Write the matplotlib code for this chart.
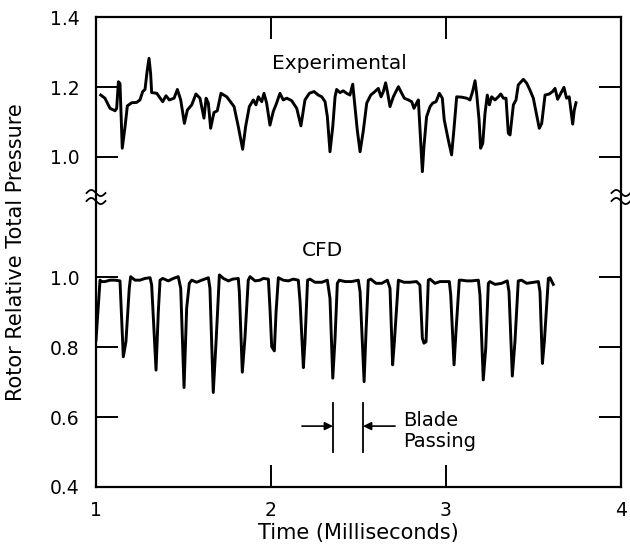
import numpy as np
import matplotlib.pyplot as plt

# Experimental trace (time in ms, relative total pressure)
exp_t = [1.027, 1.051, 1.08, 1.109, 1.118, 1.128, 1.137, 1.15, 1.166, 1.179,
         1.204, 1.232, 1.251, 1.267, 1.28, 1.293, 1.303, 1.312, 1.318, 1.347,
         1.381, 1.4, 1.419, 1.446, 1.465, 1.484, 1.505, 1.522, 1.547, 1.571,
         1.594, 1.617, 1.629, 1.642, 1.655, 1.674, 1.693, 1.714, 1.747, 1.789,
         1.813, 1.838, 1.855, 1.876, 1.899, 1.914, 1.928, 1.947, 1.96, 1.975,
         1.994, 2.013, 2.032, 2.051, 2.07, 2.09, 2.118, 2.147, 2.171, 2.194,
         2.219, 2.246, 2.27, 2.29, 2.309, 2.322, 2.337, 2.353, 2.366, 2.375,
         2.394, 2.413, 2.432, 2.451, 2.467, 2.48, 2.493, 2.509, 2.528, 2.547,
         2.57, 2.594, 2.613, 2.629, 2.642, 2.655, 2.667, 2.68, 2.699, 2.728,
         2.747, 2.762, 2.785, 2.804, 2.817, 2.832, 2.842, 2.855, 2.865, 2.874,
         2.889, 2.909, 2.924, 2.943, 2.962, 2.979, 2.99, 3.013, 3.032, 3.045,
         3.061, 3.089, 3.118, 3.137, 3.152, 3.166, 3.175, 3.189, 3.198, 3.21,
         3.223, 3.236, 3.248, 3.261, 3.28, 3.299, 3.313, 3.328, 3.343, 3.356,
         3.366, 3.385, 3.4, 3.413, 3.442, 3.461, 3.48, 3.499, 3.514, 3.533,
         3.547, 3.566, 3.59, 3.609, 3.623, 3.638, 3.651, 3.674, 3.689, 3.704,
         3.724, 3.733, 3.743]
exp_p = [1.177, 1.168, 1.139, 1.132, 1.139, 1.215, 1.21, 1.025, 1.087, 1.146,
         1.155, 1.156, 1.163, 1.187, 1.193, 1.249, 1.282, 1.239, 1.184, 1.182,
         1.158, 1.175, 1.163, 1.168, 1.193, 1.163, 1.096, 1.134, 1.149, 1.18,
         1.168, 1.111, 1.168, 1.154, 1.082, 1.127, 1.132, 1.182, 1.172, 1.144,
         1.087, 1.022, 1.087, 1.144, 1.163, 1.149, 1.172, 1.158, 1.182, 1.154,
         1.091, 1.13, 1.154, 1.182, 1.163, 1.168, 1.161, 1.139, 1.089, 1.163,
         1.182, 1.187, 1.177, 1.172, 1.158, 1.115, 1.015, 1.087, 1.172, 1.193,
         1.184, 1.189, 1.182, 1.177, 1.208, 1.144, 1.077, 1.015, 1.077, 1.154,
         1.177, 1.187, 1.196, 1.172, 1.187, 1.212, 1.182, 1.144, 1.172, 1.201,
         1.182, 1.168, 1.163, 1.158, 1.139, 1.154, 1.163, 1.049, 0.958, 1.03,
         1.115, 1.144, 1.154, 1.158, 1.182, 1.168, 1.106, 1.049, 1.006, 1.077,
         1.172, 1.171, 1.168, 1.163, 1.187, 1.218, 1.182, 1.106, 1.025, 1.039,
         1.125, 1.177, 1.149, 1.172, 1.163, 1.172, 1.18, 1.168, 1.168, 1.068,
         1.063, 1.149, 1.163, 1.206, 1.222, 1.211, 1.191, 1.168, 1.13, 1.082,
         1.096, 1.177, 1.18, 1.187, 1.196, 1.165, 1.177, 1.199, 1.168, 1.172,
         1.094, 1.134, 1.155]

# CFD trace
cfd_t = [1.0, 1.023, 1.032, 1.051, 1.08, 1.109, 1.137, 1.156, 1.171, 1.19,
         1.198, 1.223, 1.251, 1.28, 1.309, 1.318, 1.343, 1.356, 1.366, 1.381,
         1.413, 1.442, 1.47, 1.484, 1.503, 1.518, 1.533, 1.547, 1.575, 1.604,
         1.642, 1.651, 1.67, 1.686, 1.705, 1.728, 1.756, 1.781, 1.813, 1.819,
         1.836, 1.851, 1.87, 1.88, 1.909, 1.937, 1.956, 1.985, 1.994, 2.004,
         2.019, 2.029, 2.042, 2.07, 2.099, 2.127, 2.156, 2.166, 2.185, 2.194,
         2.209, 2.223, 2.251, 2.29, 2.322, 2.337, 2.353, 2.366, 2.379, 2.39,
         2.423, 2.461, 2.499, 2.509, 2.532, 2.543, 2.556, 2.57, 2.6, 2.633,
         2.665, 2.68, 2.695, 2.705, 2.728, 2.76, 2.794, 2.832, 2.851, 2.865,
         2.874, 2.886, 2.899, 2.909, 2.937, 2.966, 2.994, 3.019, 3.027, 3.046,
         3.057, 3.076, 3.089, 3.118, 3.147, 3.185, 3.194, 3.213, 3.227, 3.242,
         3.251, 3.28, 3.318, 3.35, 3.36, 3.379, 3.394, 3.413, 3.432, 3.461,
         3.499, 3.528, 3.537, 3.551, 3.562, 3.585, 3.594, 3.613]
cfd_p = [0.82, 0.991, 0.987, 0.987, 0.991, 0.991, 0.989, 0.772, 0.815, 0.968,
         1.001, 0.991, 0.991, 0.996, 0.998, 0.977, 0.734, 0.901, 0.991, 0.996,
         0.989, 0.996, 1.001, 0.968, 0.684, 0.911, 0.982, 0.991, 0.985, 0.991,
         0.998, 0.968, 0.67, 0.815, 1.006, 0.996, 0.989, 0.994, 0.996, 0.958,
         0.728, 0.825, 0.991, 1.001, 0.989, 0.991, 0.996, 0.994, 0.911, 0.801,
         0.789, 0.901, 0.998, 0.991, 0.989, 0.994, 0.991, 0.93, 0.741, 0.815,
         0.991, 0.994, 0.985, 0.985, 0.991, 0.939, 0.711, 0.825, 0.982, 0.991,
         0.987, 0.987, 0.991, 0.958, 0.701, 0.844, 0.991, 0.994, 0.982, 0.982,
         0.991, 0.968, 0.749, 0.815, 0.991, 0.985, 0.985, 0.987, 0.977, 0.825,
         0.811, 0.815, 0.991, 0.994, 0.982, 0.987, 0.987, 0.987, 0.949, 0.749,
         0.844, 0.991, 0.991, 0.989, 0.989, 0.991, 0.949, 0.706, 0.796, 0.982,
         0.987, 0.979, 0.982, 0.989, 0.958, 0.717, 0.815, 0.989, 0.991, 0.982,
         0.985, 0.987, 0.958, 0.753, 0.815, 0.996, 0.998, 0.979]

x_ticks = [1, 2, 3, 4]
lower_ticks = [0.4, 0.6, 0.8, 1.0]
upper_ticks = [1.0, 1.2, 1.4]
blade_edges = [2.354, 2.526]

OFFSET = 0.343  # upper (experimental) scale is shifted up on the shared axis

fig = plt.figure(figsize=(6.3, 5.47), dpi=100)
ax = fig.add_axes([0.1524, 0.1097, 0.8333, 0.8592])

ax.plot(exp_t, np.array(exp_p) + OFFSET, color='black', lw=2.1)
ax.plot(cfd_t, cfd_p, color='black', lw=2.1)

ax.set_xlim(1, 4)
ax.set_ylim(0.4, 1.4 + OFFSET)
ax.set_xticks(x_ticks)
ax.set_xticklabels([str(v) for v in x_ticks])
yt = lower_ticks + [v + OFFSET for v in upper_ticks]
ax.set_yticks(yt)
ax.set_yticklabels(['%.1f' % v for v in lower_ticks + upper_ticks])
ax.tick_params(direction='in', length=16, width=1.4, top=True, right=True,
               labelsize=13.5)
ax.tick_params(axis='y', pad=12)
ax.tick_params(axis='x', pad=10)
for s in ax.spines.values():
    s.set_linewidth(1.6)

# axis break marks on both spines
y_brk = (1.2286 - 0.4) / (1.0 + OFFSET)
u = np.linspace(-1, 1, 40)
for x0 in (0.0, 1.0):
    for dy in (-0.0085, 0.0085):
        ax.plot(x0 + u * 0.018, y_brk + dy - 0.0065 * np.sin(np.pi * u),
                transform=ax.transAxes, color='black', lw=1.3, clip_on=False)

ax.text(2.389, 1.611, 'Experimental', fontsize=14.5, ha='center', va='center')
ax.text(2.297, 1.077, 'CFD', fontsize=14.5, ha='center', va='center')

# blade passing annotation
for xb in blade_edges:
    ax.plot([xb, xb], [0.5, 0.64], color='black', lw=1.3)
ax.annotate('', xy=(blade_edges[0], 0.574), xytext=(2.177, 0.574),
            arrowprops=dict(arrowstyle='-|>', color='black', lw=1.2,
                            mutation_scale=12, shrinkA=0, shrinkB=0))
ax.annotate('', xy=(blade_edges[1], 0.574), xytext=(2.709, 0.574),
            arrowprops=dict(arrowstyle='-|>', color='black', lw=1.2,
                            mutation_scale=12, shrinkA=0, shrinkB=0))
ax.text(2.754, 0.56, 'Blade\nPassing', fontsize=14, ha='left', va='center',
        linespacing=1.15)

fig.text(16 / 630, 1 - 252 / 547, 'Rotor Relative Total Pressure',
         rotation=90, fontsize=15, ha='center', va='center')
fig.text(358.5 / 630, 1 - 533 / 547, 'Time (Milliseconds)', fontsize=15,
         ha='center', va='center')

fig.savefig('out.png', dpi=100)
